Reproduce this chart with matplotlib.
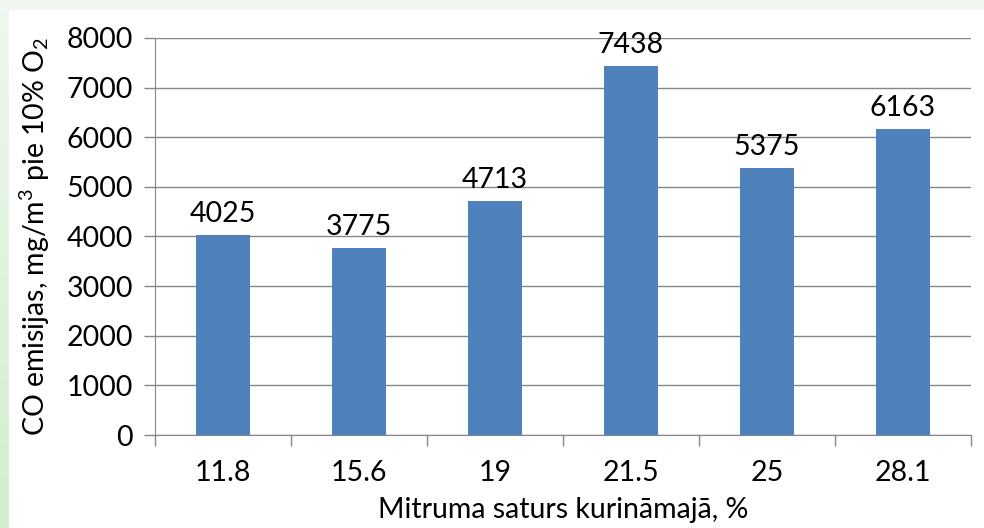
import matplotlib
matplotlib.use('Agg')
import matplotlib.pyplot as plt
import numpy as np

plt.rcParams['font.family'] = ['Lato', 'DejaVu Sans']
plt.rcParams['mathtext.fontset'] = 'custom'
plt.rcParams['mathtext.rm'] = 'Lato'
plt.rcParams['mathtext.default'] = 'regular'

categories = ['11.8', '15.6', '19', '21.5', '25', '28.1']
values = [4025, 3775, 4713, 7438, 5375, 6163]
y_ticks = [0, 1000, 2000, 3000, 4000, 5000, 6000, 7000, 8000]

W, H = 984, 528
fig = plt.figure(figsize=(W / 100, H / 100), dpi=100)

# light green background with gradient, white chart area on top
bg = fig.add_axes([0, 0, 1, 1], zorder=-10)
grad = np.linspace(0, 1, 256).reshape(-1, 1)
top = np.array([0.94, 0.97, 0.94])
bot = np.array([0.82, 0.93, 0.80])
img = top + (bot - top) * grad[:, :, None]
bg.imshow(img, aspect='auto', extent=[0, 1, 0, 1], origin='upper')
bg.add_patch(plt.Rectangle((9 / W, 0), 1, 1 - 10 / H, color='white'))
bg.set_xlim(0, 1)
bg.set_ylim(0, 1)
bg.axis('off')

fs = 20.5
ax = fig.add_axes([155 / W, (H - 435) / H, 816 / W, 397 / H])
x = np.arange(len(categories))
bars = ax.bar(x, values, width=0.39, color='#4f81bd', zorder=3)
for xi, v in zip(x, values):
    ax.text(xi, v + 160, str(v), ha='center', va='bottom', fontsize=fs)

ax.set_xlim(-0.5, len(categories) - 0.5)
ax.set_ylim(0, 8000)
ax.set_yticks(y_ticks)
ax.set_xticks(x)
ax.set_xticklabels(categories)
ax.set_xticks(np.arange(-0.5, len(categories)), minor=True)
ax.tick_params(axis='x', which='major', length=0, pad=18, labelsize=fs)
ax.tick_params(axis='x', which='minor', length=8, color='#868686', width=1)
ax.tick_params(axis='y', length=8, color='#868686', width=1, labelsize=fs, pad=8)

ax.yaxis.grid(True, color='#868686', linewidth=1)
ax.set_axisbelow(True)
for s in ['top', 'right']:
    ax.spines[s].set_visible(False)
for s in ['left', 'bottom']:
    ax.spines[s].set_color('#868686')

ax.set_xlabel('Mitruma saturs kurināmajā, %', fontsize=fs, labelpad=8)
ax.set_ylabel('CO emisijas, mg/m$^3$ pie 10% O$_2$', fontsize=fs, labelpad=10)

fig.savefig('out.png', dpi=100)
